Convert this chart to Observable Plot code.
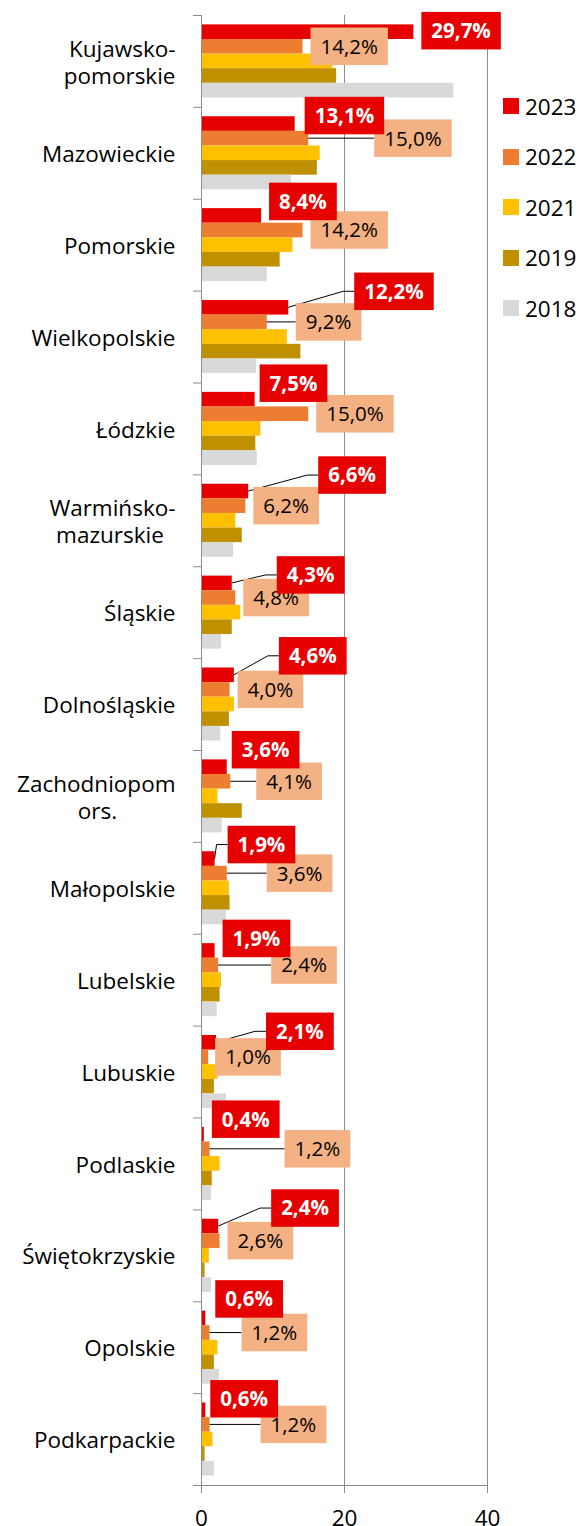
<!DOCTYPE html>
<html><head><meta charset="utf-8">
<script src="https://cdn.jsdelivr.net/npm/d3@7"></script>
<script src="https://cdn.jsdelivr.net/npm/@observablehq/plot@0.6"></script>
<style>
body{margin:0;background:#fff;font-family:'Open Sans',sans-serif;}
#wrap{position:relative;width:581px;height:1526px;overflow:hidden;}
#legend{position:absolute;left:503px;top:81px;}
.row{height:50.5px;display:flex;align-items:center;font-size:22.5px;color:#000;white-space:nowrap}
.sw{width:16px;height:16px;margin-right:6px;flex:none}
</style></head><body><div id="wrap"><div id="legend"></div></div>
<script>
// ---- data ----
const regions = ["Kujawsko-\npomorskie","Mazowieckie","Pomorskie","Wielkopolskie","Łódzkie","Warmińsko-\nmazurskie","Śląskie","Dolnośląskie","Zachodniopom\nors.","Małopolskie","Lubelskie","Lubuskie","Podlaskie","Świętokrzyskie","Opolskie","Podkarpackie"];
const years = ["2023","2022","2021","2019","2018"];
const v2023 = [29.7,13.1,8.4,12.2,7.5,6.6,4.3,4.6,3.6,1.9,1.9,2.1,0.4,2.4,0.6,0.6];
const v2022 = [14.2,15.0,14.2,9.2,15.0,6.2,4.8,4.0,4.1,3.6,2.4,1.0,1.2,2.6,1.2,1.2];
const v2021 = [18.4,16.6,12.8,12.0,8.3,4.8,5.5,4.6,2.3,3.9,2.8,2.3,2.6,1.1,2.3,1.6];
const v2019 = [18.9,16.2,11.0,13.9,7.6,5.7,4.3,3.9,5.7,4.0,2.6,1.8,1.5,0.5,1.8,0.5];
const v2018 = [35.3,12.6,9.2,7.7,7.8,4.5,2.8,2.7,2.9,3.5,2.2,3.5,1.4,1.4,2.5,1.8];
const xTicks = [0,20,40];

// ---- style / layout ----
const colors = ["#E60000","#ED7D31","#FFC000","#BF9000","#D9D9D9"];
const labelRed = "#E60000", labelSalmon = "#F4B183";
// manual label nudges (px) as placed in the original chart
const redDx = [8,10,8,66,5,70,45,45,5,13,8,50,8,53,10,5];
const redDy = [-1,-8,-14,-16,-16,-16,-8,-19,-17,-14,-12,-11,-15,-18,-19,-11];
const orangeDx = [8,66,8,29,8,8,8,8,26,40,53,7,75,8,32,51];

const series = [v2023,v2022,v2021,v2019,v2018];
const PAD = 0.102, BH = 0.159;
const rows = [];
regions.forEach((r,i)=>series.forEach((s,k)=>rows.push({region:r,i,k,year:years[k],value:s[i]})));

const FONT = "'Open Sans'";
const canvas = document.createElement("canvas").getContext("2d");
function tw(t, font){ canvas.font = font; return canvas.measureText(t).width; }
const fmt = v => v.toFixed(1).replace(".", ",") + "%";

function regionLabel(t){
  const lines = t.split("\n");
  if (lines.length === 1) return t;
  const f = `22.5px ${FONT}`;
  const ws = lines.map(l=>tw(l,f));
  const mx = Math.max(...ws);
  const nb = tw("\u00a0", f);
  return lines.map((l,j)=>l + "\u00a0".repeat(Math.round((mx-ws[j])/2/nb))).join("\n");
}

function labels(index, scales){
  const sx = scales.x, sy = scales.y;
  const g = d3.create("svg:g");
  const H = 37.5, padX = 10;
  const leaders = g.append("g").attr("stroke","#000").attr("stroke-width",1).attr("fill","none");
  const salmonG = g.append("g"), redG = g.append("g");
  regions.forEach((r,i)=>{
    // 2022
    const oEnd = sx(v2022[i]), oCy = sy(i + PAD + 1.5*BH);
    const ot = fmt(v2022[i]);
    const ow = tw(ot, `20.5px ${FONT}`) + 2*padX;
    const ol = oEnd + orangeDx[i];
    if (orangeDx[i] > 15) leaders.append("path").attr("d",`M${oEnd},${oCy}H${ol}`);
    salmonG.append("rect").attr("x",ol).attr("y",oCy-H/2).attr("width",ow).attr("height",H).attr("fill",labelSalmon);
    salmonG.append("text").attr("x",ol+ow/2).attr("y",oCy).attr("dy","0.36em").attr("text-anchor","middle")
      .attr("font-size","20.5px").attr("font-family",FONT).attr("fill","#000").text(ot);
    // 2023
    const rEnd = sx(v2023[i]), rBy = sy(i + PAD + 0.5*BH);
    const rt = fmt(v2023[i]);
    const rw = tw(rt, `bold 20.5px ${FONT}`) + 2*padX;
    const rl = rEnd + redDx[i], rCy = rBy + redDy[i];
    if (redDx[i] > 12) leaders.append("path").attr("d",`M${rEnd},${rBy}L${rl-11},${rCy}H${rl}`);
    redG.append("rect").attr("x",rl).attr("y",rCy-H/2).attr("width",rw).attr("height",H).attr("fill",labelRed);
    redG.append("text").attr("x",rl+rw/2).attr("y",rCy).attr("dy","0.36em").attr("text-anchor","middle")
      .attr("font-size","20.5px").attr("font-weight","bold").attr("font-family",FONT).attr("fill","#fff").text(rt);
  });
  return g.node();
}

const axisGray = "#8c8c8c";
const chart = Plot.plot({
  width: 581, height: 1526,
  marginLeft: 201, marginRight: 94, marginTop: 15, marginBottom: 41,
  style: {fontFamily: FONT, fontSize: "22.5px", background: "#fff", color: "#000", overflow: "hidden"},
  x: {domain: [0,40]},
  y: {domain: [0,16], reverse: true},
  color: {domain: years, range: colors},
  marks: [
    Plot.gridX([20,40], {stroke: axisGray, strokeOpacity: 1}),
    Plot.rect(rows, {x1: 0, x2: "value", y1: d => d.i + PAD + d.k*BH, y2: d => d.i + PAD + (d.k+1)*BH, fill: "year"}),
    Plot.ruleX([0], {stroke: axisGray}),
    Plot.ruleY([16], {stroke: axisGray}),
    Plot.axisY(d3.range(17), {tickSize: 8, tickFormat: () => "", stroke: axisGray, label: null}),
    Plot.axisY(d3.range(16).map(i=>i+0.5), {tickSize: 0, tickPadding: 26, tickFormat: d => regionLabel(regions[Math.floor(d)]), fill: "#000", lineHeight: 1.2, label: null}),
    Plot.axisX(xTicks, {anchor: "bottom", tickSize: 8, tickPadding: 17, stroke: axisGray, fill: "#000", label: null}),
    labels
  ]
});
document.getElementById("wrap").prepend(chart);

const lg = d3.select("#legend");
years.forEach((y,k)=>{
  const row = lg.append("div").attr("class","row");
  row.append("div").attr("class","sw").style("background",colors[k]);
  row.append("span").text(y);
});
</script>
</body></html>
